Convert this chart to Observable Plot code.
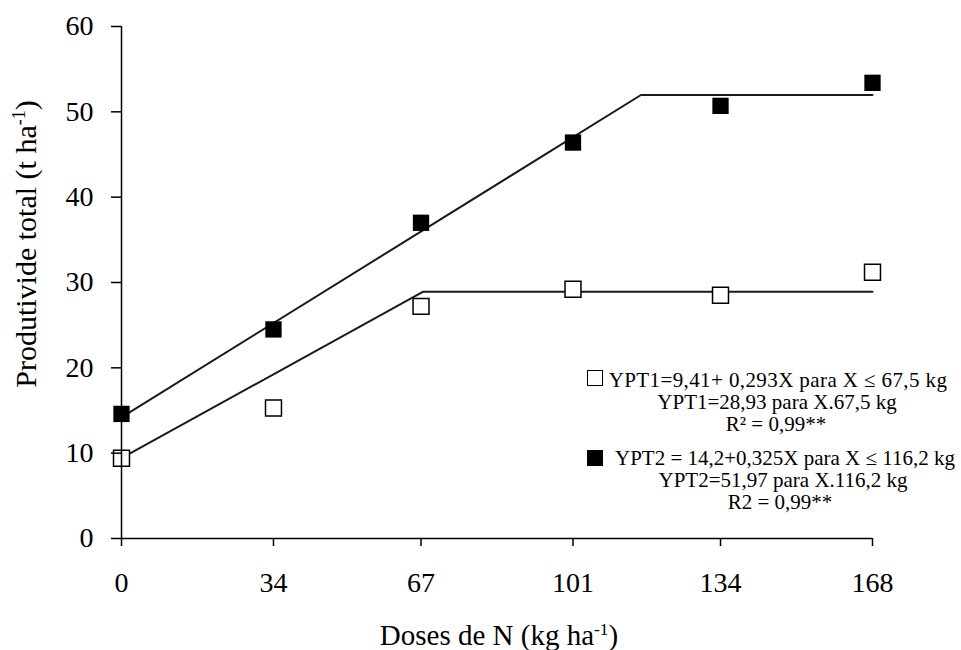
<!DOCTYPE html>
<html>
<head>
<meta charset="utf-8">
<script src="https://cdn.jsdelivr.net/npm/d3@7"></script>
<script src="https://cdn.jsdelivr.net/npm/@observablehq/plot@0.6"></script>
<style>
  html, body { margin: 0; padding: 0; background: white; }
  #wrap { position: relative; width: 961px; height: 650px; font-family: "Liberation Serif", serif; color: black; }
  #wrap svg { position: absolute; left: 0; top: 0; }
  .ov { position: absolute; white-space: nowrap; }
  .leg { position: absolute; white-space: nowrap; font-size: 21px; line-height: 21px; transform: translateX(-50%); }
  .sq { position: absolute; width: 14px; height: 14px; border: 1.5px solid black; }
  sup { font-size: 0.6em; vertical-align: 0.6em; line-height: 0; }
</style>
</head>
<body>
<div id="wrap"></div>
<script>
// Data
const doses = [0, 34, 67, 101, 134, 168];
const ypt1 = [9.4, 15.3, 27.2, 29.2, 28.5, 31.2];
const ypt2 = [14.6, 24.5, 37.0, 46.4, 50.7, 53.4];

// Fitted piecewise models (breakpoints from legend equations)
const fit1X = [0, 67.5, 168];
const fit1Y = [9.41, 28.93, 28.93];
const fit2X = [0, 116.2, 168];
const fit2Y = [14.2, 51.97, 51.97];

const xTicks = [0, 34, 67, 101, 134, 168];
const yTicks = [0, 10, 20, 30, 40, 50, 60];

const legendLines1 = ["YPT1=9,41+ 0,293X para X \u2264 67,5 kg", "YPT1=28,93 para X.67,5 kg", "R\u00b2 = 0,99**"];
const legendLines2 = ["YPT2 = 14,2+0,325X para X \u2264 116,2 kg", "YPT2=51,97 para X.116,2 kg", "R2 = 0,99**"];

const obs1 = doses.map((d, i) => ({x: d, y: ypt1[i]}));
const obs2 = doses.map((d, i) => ({x: d, y: ypt2[i]}));
const fit1 = fit1X.map((d, i) => ({x: d, y: fit1Y[i]}));
const fit2 = fit2X.map((d, i) => ({x: d, y: fit2Y[i]}));

const plot = Plot.plot({
  width: 961,
  height: 650,
  marginLeft: 121,
  marginRight: 89,
  marginTop: 26,
  marginBottom: 112,
  style: {fontFamily: "Liberation Serif", fontSize: "28px", color: "black", background: "white"},
  x: {domain: [0, 168]},
  y: {domain: [0, 60]},
  marks: [
    Plot.line(fit1, {x: "x", y: "y", stroke: "#1a1a1a", strokeWidth: 2}),
    Plot.line(fit2, {x: "x", y: "y", stroke: "#1a1a1a", strokeWidth: 2}),
    Plot.dot(obs1, {x: "x", y: "y", symbol: "square", r: 9, fill: "white", stroke: "black", strokeWidth: 1.5}),
    Plot.dot(obs2, {x: "x", y: "y", symbol: "square", r: 9.2, fill: "black", stroke: "none"}),
    Plot.axisX({ticks: xTicks, tickSize: 8, tickPadding: 26, label: null, fontSize: 28, strokeWidth: 1.5, tickFormat: d => String(d)}),
    Plot.axisY({ticks: yTicks, tickSize: 10, tickPadding: 18, label: null, fontSize: 28, strokeWidth: 1.5}),
    Plot.ruleX([0], {stroke: "black", strokeWidth: 1.5}),
    Plot.ruleY([0], {stroke: "black", strokeWidth: 1.5})
  ]
});

const wrap = document.getElementById("wrap");
wrap.appendChild(plot);

function addDiv(cls, html, css) {
  const d = document.createElement("div");
  d.className = cls;
  d.innerHTML = html;
  Object.assign(d.style, css);
  wrap.appendChild(d);
  return d;
}

// Axis labels
addDiv("ov", "Doses de N (kg ha<sup>-1</sup>)", {left: "499px", top: "621px", fontSize: "29px", lineHeight: "29px", transform: "translateX(-50%)"});
addDiv("ov", "Produtivide total (t ha<sup>-1</sup>)", {left: "26px", top: "244px", fontSize: "30px", lineHeight: "30px", transform: "translate(-50%,-50%) rotate(-90deg)"});

// Legend
const tops1 = [370, 392, 414], centers1 = [778, 777, 776];
const tops2 = [448, 470, 492], centers2 = [785, 783, 780];
legendLines1.forEach((t, i) => addDiv("leg", t, {top: tops1[i] + "px", left: centers1[i] + "px", letterSpacing: i === 0 ? "0.4px" : "0"}));
legendLines2.forEach((t, i) => addDiv("leg", t, {top: tops2[i] + "px", left: centers2[i] + "px"}));
addDiv("sq", "", {left: "587px", top: "370px", background: "white"});
addDiv("sq", "", {left: "587px", top: "450px", background: "black"});
</script>
</body>
</html>
